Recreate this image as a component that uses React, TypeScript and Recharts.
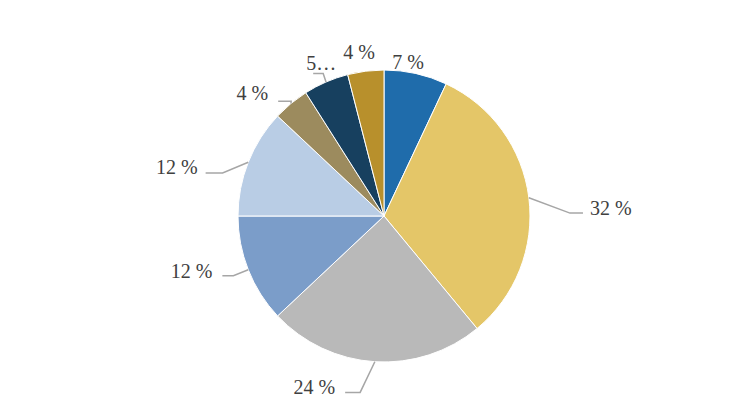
import React from 'react';
import { PieChart, Pie, Cell } from 'recharts';

// shares, clockwise from 12 o'clock
const shares = [7, 32, 24, 12, 12, 4, 5, 4];
const labels = ['7 %', '32 %', '24 %', '12 %', '12 %', '4 %', '5…', '4 %'];
const colors = ['#1f6cab', '#e4c668', '#b9b9b9', '#7b9dc9', '#b9cde5', '#9c8b5e', '#17405f', '#b8902c'];

// leader line / label placement per slice: elbow radius+angle offset, horizontal leg, text offset
const labelLayout = [
  { dr: 9.5, da: 3.7, h: 0, tx: 0, ty: 0, line: false },
  { dr: 40, da: -6.3, h: 13, tx: 7, ty: -5, line: true },
  { dr: 32, da: -4.1, h: -15, tx: -10, ty: -5, line: true },
  { dr: 16, da: 0, h: -11, tx: -10, ty: -5, line: true },
  { dr: 21, da: 6.7, h: -17, tx: -8, ty: -6, line: true },
  { dr: 1.5, da: -0.6, h: -13, tx: -10, ty: -8, line: true },
  { dr: 9, da: -0.3, h: -10, tx: 8, ty: -10, line: true },
  { dr: 19.5, da: 1.5, h: 0, tx: 0, ty: 0, line: false },
];

const data = shares.map((v, i) => ({ name: labels[i], value: v }));

const RAD = Math.PI / 180;
const polar = (cx: number, cy: number, r: number, deg: number) => ({
  x: cx + r * Math.cos(-deg * RAD),
  y: cy + r * Math.sin(-deg * RAD),
});

const renderLabel = (props: any) => {
  const { cx, cy, midAngle, outerRadius, index } = props;
  const cfg = labelLayout[index];
  const start = polar(cx, cy, outerRadius, midAngle);
  const elbow = polar(cx, cy, outerRadius + cfg.dr, midAngle + cfg.da);
  const endX = elbow.x + cfg.h;
  let anchor: 'start' | 'end' | 'middle' = 'middle';
  if (cfg.line && index !== 6) anchor = cfg.h > 0 ? 'start' : 'end';
  const tx = cfg.line ? endX + cfg.tx : elbow.x;
  const ty = elbow.y + cfg.ty;
  return (
    <g key={`lbl-${index}`}>
      {cfg.line && (
        <polyline
          points={`${start.x},${start.y} ${elbow.x},${elbow.y} ${endX},${elbow.y}`}
          fill="none"
          stroke="#a6a6a6"
          strokeWidth={1.5}
        />
      )}
      <text
        x={tx}
        y={ty}
        textAnchor={anchor}
        dominantBaseline="central"
        fill="#404040"
        fontSize={20}
        fontFamily="'Liberation Serif', serif"
      >
        {labels[index]}
      </text>
    </g>
  );
};

export default function App() {
  return (
    <div style={{ position: 'fixed', left: 0, top: 0, width: 736, height: 414, background: '#fff' }}>
      <PieChart width={736} height={414} margin={{ top: 0, right: 0, bottom: 0, left: 0 }}>
        <Pie
          data={data}
          dataKey="value"
          cx={384}
          cy={216}
          outerRadius={146}
          startAngle={90}
          endAngle={-270}
          stroke="#ffffff"
          strokeWidth={1}
          label={renderLabel}
          labelLine={false}
          isAnimationActive={false}
        >
          {data.map((d, i) => (
            <Cell key={d.name + i} fill={colors[i]} />
          ))}
        </Pie>
      </PieChart>
    </div>
  );
}
